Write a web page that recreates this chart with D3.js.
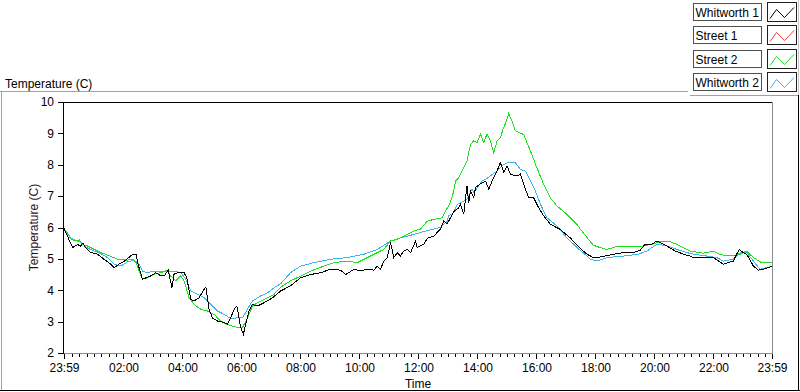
<!DOCTYPE html>
<html><head><meta charset="utf-8">
<script src="https://cdn.jsdelivr.net/npm/d3@7"></script>
<style>
html,body{margin:0;padding:0;background:#fff;}
svg{display:block;font-family:"Liberation Sans",Arial,sans-serif;}
</style></head><body>
<svg id="c" width="800" height="392"></svg>
<script>
// ---------- data ----------
const seriesNames  = ["Whitworth 1", "Street 1", "Street 2", "Whitworth 2"];
const seriesColors = ["#000000", "#ff3a3a", "#1ee01e", "#3cb4f0"];
const xTickLabels  = ["23:59","02:00","04:00","06:00","08:00","10:00","12:00","14:00","16:00","18:00","20:00","22:00","23:59"];
const yTickValues  = [2, 3, 4, 5, 6, 7, 8, 9, 10];
const graphTitle = "Temperature (C)";
const yAxisTitle = "Temperature (C)";
const xAxisTitle = "Time";

// [hours after 23:59 start, temperature C]
const whitworth1 = [
[0,5.97],[0.29,5.36],[0.46,5.46],[0.55,5.40],[0.64,5.50],[0.73,5.36],[0.91,5.20],[1.14,5.15],[1.35,4.99],[1.59,4.83],
[1.70,4.72],[1.86,4.83],[2.05,4.93],[2.33,5.15],[2.44,5.15],[2.51,4.83],[2.66,4.35],[2.95,4.46],[3.11,4.56],[3.28,4.46],
[3.40,4.46],[3.53,4.64],[3.66,4.08],[3.73,4.51],[3.85,4.56],[4.07,4.56],[4.16,4.40],[4.30,3.71],[4.41,3.66],[4.58,3.76],
[4.75,4.03],[4.81,4.10],[4.92,3.39],[5.03,3.12],[5.20,3.02],[5.43,2.97],[5.54,2.91],[5.65,3.12],[5.77,3.40],[5.86,3.50],
[5.99,2.81],[6.08,2.60],[6.16,2.91],[6.27,3.34],[6.38,3.55],[6.56,3.50],[6.78,3.60],[7.07,3.76],[7.35,3.98],[7.68,4.14],
[8.02,4.40],[8.36,4.50],[8.70,4.56],[9.04,4.67],[9.38,4.64],[9.55,4.50],[9.83,4.67],[10.05,4.62],[10.28,4.67],[10.50,4.64],
[10.62,4.77],[10.73,4.67],[10.84,4.93],[10.96,5.04],[11.07,5.52],[11.18,5.04],[11.30,5.20],[11.40,5.09],[11.52,5.25],[11.63,5.30],
[11.75,5.20],[11.92,5.57],[11.97,5.36],[12.20,5.47],[12.31,5.65],[12.54,5.73],[12.76,5.95],[12.87,6.20],[12.99,6.12],[13.21,6.50],
[13.38,6.63],[13.44,6.74],[13.55,6.42],[13.66,7.32],[13.72,6.78],[13.78,7.16],[13.89,6.95],[13.95,7.27],[14.12,7.40],[14.29,7.48],
[14.40,7.22],[14.51,7.48],[14.68,7.80],[14.79,8.07],[14.91,7.75],[15.02,7.96],[15.13,7.70],[15.36,7.64],[15.47,7.70],[15.58,7.38],
[15.75,6.95],[15.92,6.95],[16.09,6.63],[16.26,6.37],[16.49,6.10],[16.82,5.94],[17.16,5.67],[17.50,5.33],[17.73,5.15],[17.95,5.04],
[18.18,5.06],[18.63,5.15],[18.97,5.20],[19.30,5.20],[19.53,5.27],[19.70,5.47],[19.93,5.47],[20.10,5.57],[20.21,5.52],[20.44,5.41],
[20.72,5.25],[21.00,5.15],[21.22,5.09],[21.34,5.04],[21.67,5.04],[22.01,5.04],[22.35,4.83],[22.69,4.93],[22.80,5.15],[22.89,5.30],
[23.03,5.20],[23.14,5.15],[23.37,4.77],[23.54,4.64],[23.71,4.67],[23.88,4.72],[24.0,4.77]
];
const street1 = [];
const street2 = [
[0,5.97],[0.24,5.62],[0.41,5.57],[0.52,5.60],[0.63,5.46],[0.80,5.41],[1.03,5.30],[1.25,5.20],[1.48,5.12],[1.82,4.99],
[2.15,4.96],[2.33,4.99],[2.44,4.88],[2.55,4.61],[2.66,4.35],[2.83,4.40],[3.06,4.51],[3.28,4.56],[3.51,4.64],[3.62,4.45],
[3.79,4.30],[3.96,4.46],[4.07,4.30],[4.24,3.76],[4.41,3.55],[4.64,3.39],[4.86,3.34],[5.09,3.23],[5.31,3.02],[5.54,2.91],
[5.88,2.81],[6.05,2.81],[6.22,3.12],[6.39,3.50],[6.56,3.60],[6.78,3.71],[7.12,3.87],[7.35,4.10],[7.68,4.30],[8.02,4.45],
[8.36,4.61],[8.81,4.77],[9.15,4.88],[9.60,4.93],[9.94,4.88],[10.28,5.04],[10.62,5.20],[10.84,5.30],[11.07,5.57],[11.29,5.62],
[11.52,5.73],[11.86,5.89],[12.08,5.95],[12.31,6.20],[12.54,6.26],[12.82,6.31],[12.93,6.52],[13.10,6.80],[13.21,7.16],[13.27,7.48],
[13.38,7.59],[13.55,7.90],[13.66,8.12],[13.78,8.65],[13.89,8.76],[14.00,8.70],[14.12,8.97],[14.23,8.70],[14.34,8.99],[14.45,8.76],
[14.57,8.38],[14.68,8.76],[14.79,8.86],[14.90,9.18],[15.00,9.39],[15.07,9.63],[15.19,9.39],[15.30,9.08],[15.47,9.00],[15.58,8.97],
[15.81,8.44],[16.03,7.90],[16.26,7.38],[16.48,6.95],[16.71,6.69],[17.05,6.42],[17.39,6.10],[17.50,5.95],[17.73,5.68],[17.95,5.43],
[18.18,5.36],[18.40,5.30],[18.69,5.38],[19.20,5.38],[19.64,5.41],[19.98,5.48],[20.27,5.57],[20.55,5.55],[20.89,5.41],[21.22,5.25],
[21.67,5.18],[22.01,5.25],[22.24,5.14],[22.58,5.09],[22.92,5.15],[23.14,5.25],[23.37,5.04],[23.65,4.88],[24.0,4.88]
];
const whitworth2 = [
[0,5.97],[0.24,5.66],[0.58,5.52],[0.80,5.34],[1.03,5.25],[1.25,5.17],[1.48,5.04],[1.70,4.83],[1.93,4.77],[2.16,4.91],
[2.38,4.96],[2.55,4.83],[2.66,4.61],[2.83,4.56],[3.06,4.61],[3.28,4.61],[3.51,4.61],[3.73,4.61],[3.96,4.56],[4.13,4.35],
[4.30,3.98],[4.53,3.87],[4.75,3.76],[4.98,3.55],[5.20,3.34],[5.43,3.23],[5.65,3.10],[5.88,3.12],[6.05,3.12],[6.22,3.40],
[6.39,3.66],[6.67,3.82],[6.90,3.92],[7.12,4.08],[7.35,4.21],[7.68,4.56],[8.02,4.77],[8.47,4.88],[9.04,4.99],[9.60,5.04],
[10.17,5.15],[10.62,5.30],[11.07,5.57],[11.41,5.67],[11.86,5.78],[12.31,5.90],[12.76,6.00],[12.99,6.20],[13.04,6.37],[13.21,6.47],
[13.33,6.74],[13.44,6.79],[13.66,6.90],[13.83,7.22],[13.89,7.11],[14.17,7.48],[14.34,7.57],[14.68,7.80],[14.90,8.01],[15.07,8.07],
[15.30,8.07],[15.47,7.85],[15.64,7.80],[15.81,7.48],[15.98,7.16],[16.15,6.74],[16.37,6.31],[16.71,6.05],[17.05,5.67],[17.39,5.36],
[17.73,5.09],[17.84,4.99],[18.07,4.93],[18.40,5.04],[18.97,5.09],[19.47,5.15],[19.76,5.25],[20.10,5.47],[20.44,5.41],[20.77,5.30],
[21.11,5.20],[21.34,5.15],[21.79,5.09],[22.13,5.04],[22.35,4.93],[22.69,4.99],[22.92,5.20],[23.14,5.21],[23.37,4.93],[23.59,4.67],
[23.82,4.72],[24.0,4.77]
];
const allSeries = [whitworth1, street1, street2, whitworth2];

// ---------- setup ----------
const svg = d3.select("#c");
const START = new Date(2013, 0, 1, 23, 59);
const toDate = h => new Date(START.getTime() + h * 3600000);
const END = toDate(24);

const PL = 64, PR = 772, PT = 102, PB = 353;
const x = d3.scaleTime().domain([START, END]).range([PL, PR]);
const y = d3.scaleLinear().domain([d3.min(yTickValues), d3.max(yTickValues)]).range([PB, PT]);

// outer panel frame
const frame = svg.append("g").attr("shape-rendering", "crispEdges");
frame.append("line").attr("x1", 0).attr("x2", 688).attr("y1", 91.5).attr("y2", 91.5).attr("stroke", "#a0a0a0");
frame.append("line").attr("x1", 1.5).attr("x2", 1.5).attr("y1", 91.5).attr("y2", 391).attr("stroke", "#a0a0a0");
frame.append("line").attr("x1", 0).attr("x2", 800).attr("y1", 390.5).attr("y2", 390.5).attr("stroke", "#000");
frame.append("line").attr("x1", 798.5).attr("x2", 798.5).attr("y1", 95).attr("y2", 391).attr("stroke", "#000");
frame.append("line").attr("x1", 690).attr("x2", 798).attr("y1", 95.5).attr("y2", 95.5).attr("stroke", "#a0a0a0");
frame.append("line").attr("x1", 798.5).attr("x2", 798.5).attr("y1", 0).attr("y2", 95).attr("stroke", "#c8c8c8");

// title
svg.append("text").attr("x", 5).attr("y", 88).attr("font-size", 12).attr("fill", "#000").text(graphTitle);

// clip
svg.append("clipPath").attr("id", "pc").append("rect")
  .attr("x", PL).attr("y", PT).attr("width", PR - PL).attr("height", PB - PT);

// lines (draw black last, on top)
const line = d3.line().x(d => x(toDate(d[0]))).y(d => y(d[1]));
const plotG = svg.append("g").attr("clip-path", "url(#pc)");
const order = [3, 2, 1, 0];
order.forEach(i => {
  if (!allSeries[i].length) return;
  plotG.append("path").datum(allSeries[i])
    .attr("d", line).attr("fill", "none")
    .attr("stroke", seriesColors[i]).attr("stroke-width", 1)
    .attr("stroke-linejoin", "miter")
    .attr("shape-rendering", "crispEdges");
});

// plot border
const border = svg.append("g").attr("shape-rendering", "crispEdges");
border.append("line").attr("x1", PL - 0.5).attr("x2", PR).attr("y1", PT + 0.5).attr("y2", PT + 0.5).attr("stroke", "#000");
border.append("line").attr("x1", PL - 0.5).attr("x2", PL - 0.5).attr("y1", PT).attr("y2", PB + 1).attr("stroke", "#000");
border.append("line").attr("x1", PR + 0.5).attr("x2", PR + 0.5).attr("y1", PT).attr("y2", PB + 1).attr("stroke", "#8c8c8c");
border.append("line").attr("x1", PL).attr("x2", PR + 1).attr("y1", PB + 0.5).attr("y2", PB + 0.5).attr("stroke", "#8c8c8c");

// x axis
const tickDates = xTickLabels.map((s, i) => {
  if (i === xTickLabels.length - 1) return END;
  const [hh, mm] = s.split(":").map(Number);
  const off = ((hh * 60 + mm + 1) % 1440) / 60;
  return toDate(off);
});
const xAxis = d3.axisBottom(x).tickValues(tickDates).tickFormat((d, i) => xTickLabels[i]).tickSize(5).tickPadding(5);
const gx = svg.append("g").attr("transform", `translate(0,${PB + 0.5})`).call(xAxis);
gx.select(".domain").remove();
gx.selectAll("line").attr("stroke", "#000").attr("shape-rendering", "crispEdges");
gx.selectAll("text").attr("font-size", 12).attr("fill", "#000").attr("font-family", "Liberation Sans, Arial, sans-serif");

const minor = d3.timeMinute.every(15).range(START, END)
  .filter(d => d.getMinutes() % 15 === 0 && !(d.getMinutes() === 0 && d.getHours() % 2 === 0))
  .filter(d => (d - START) > 5 * 60000 && (END - d) > 5 * 60000);
const gxm = svg.append("g").attr("transform", `translate(0,${PB + 0.5})`)
  .call(d3.axisBottom(x).tickValues(minor).tickFormat("").tickSize(3));
gxm.select(".domain").remove();
gxm.selectAll("line").attr("stroke", "#000").attr("shape-rendering", "crispEdges");

svg.append("text").attr("x", (PL + PR) / 2).attr("y", 388).attr("text-anchor", "middle")
  .attr("font-size", 12).attr("fill", "#000").text(xAxisTitle);

// y axis
const yAxis = d3.axisLeft(y).tickValues(yTickValues).tickFormat(d3.format("d")).tickSize(5).tickPadding(4);
const gy = svg.append("g").attr("transform", `translate(${PL - 1},0)`).call(yAxis);
gy.select(".domain").remove();
gy.selectAll("line").attr("stroke", "#000").attr("shape-rendering", "crispEdges");
gy.selectAll("text").attr("font-size", 12).attr("fill", "#000").attr("font-family", "Liberation Sans, Arial, sans-serif");

svg.append("text").attr("transform", `translate(38,${(PT + PB) / 2}) rotate(-90)`)
  .attr("text-anchor", "middle").attr("font-size", 12).attr("fill", "#301020").text(yAxisTitle);

// legend
const lg = svg.append("g");
seriesNames.forEach((name, i) => {
  const top = 3 + i * 23.4;
  const r = lg.append("g").attr("transform", `translate(0,${Math.round(top)})`);
  r.append("rect").attr("x", 693.5).attr("y", 0.5).attr("width", 68).attr("height", 17)
    .attr("fill", "#fff").attr("stroke", "#505050").attr("shape-rendering", "crispEdges");
  r.append("text").attr("x", 695.5).attr("y", 14).attr("font-size", 12).attr("fill", "#000").text(name);
  r.append("rect").attr("x", 767.5).attr("y", -0.5).attr("width", 29).attr("height", 19)
    .attr("fill", "#fff").attr("stroke", "#202020").attr("shape-rendering", "crispEdges");
  r.append("path").attr("d", "M770,15.5 L776.5,6.5 L784.5,14.5 L794,4.5")
    .attr("fill", "none").attr("stroke", seriesColors[i]).attr("stroke-width", 1);
});
</script>
</body></html>
